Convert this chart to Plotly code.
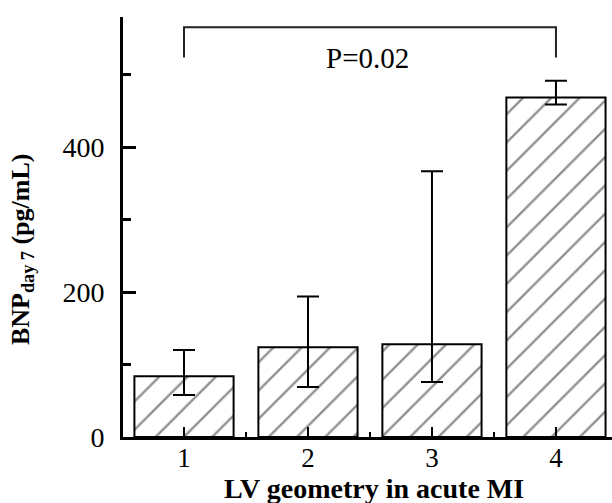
import plotly.graph_objects as go

categories = [1, 2, 3, 4]
means = [84, 124, 128, 469]
err_upper = [120, 194, 367, 492]
err_lower = [58, 69, 76, 459]
y_tick_vals = [0, 200, 400]
y_minor_vals = [100, 300, 500]
x_minor_vals = [1.5, 2.5, 3.5]
bracket_from, bracket_to = 1, 4
bracket_top, bracket_foot = 566, 524
p_label = "P=0.02"

plus = [u - m for u, m in zip(err_upper, means)]
minus = [m - l for m, l in zip(means, err_lower)]

FONT = "Liberation Serif, Times New Roman, serif"

fig = go.Figure()
fig.add_trace(go.Bar(
    x=categories, y=means, width=0.8,
    marker=dict(color="white", line=dict(color="black", width=2),
                pattern=dict(shape="/", size=20, solidity=0.12,
                             fgcolor="#222", bgcolor="white")),
    error_y=dict(type="data", symmetric=False, array=plus, arrayminus=minus,
                 color="black", thickness=2, width=11),
    showlegend=False,
))

fig.add_shape(type="path", xref="x", yref="y",
              path=f"M {bracket_from},{bracket_foot} L {bracket_from},{bracket_top} "
                   f"L {bracket_to},{bracket_top} L {bracket_to},{bracket_foot}",
              line=dict(color="#222", width=2))
fig.add_annotation(x=(bracket_from + bracket_to) / 2 - 0.02, y=(bracket_top + bracket_foot) / 2 - 22,
                   text=p_label, showarrow=False, xref="x", yref="y",
                   font=dict(family=FONT, size=29, color="black"))
fig.add_annotation(x=(22 - 123) / 489, y=(437 - 250) / 420, xref="paper", yref="paper",
                   text="<b>BNP<sub>day 7</sub> (pg/mL)</b>", textangle=-90,
                   showarrow=False, xanchor="center", yanchor="middle",
                   font=dict(family=FONT, size=26, color="black"))
fig.add_annotation(x=(374 - 123) / 489, y=(437 - 488) / 420, xref="paper", yref="paper",
                   text="<b>LV geometry in acute MI</b>",
                   showarrow=False, xanchor="center", yanchor="middle",
                   font=dict(family=FONT, size=28, color="black"))

fig.update_layout(
    width=612, height=503,
    margin=dict(l=123, r=0, t=17, b=66),
    paper_bgcolor="white", plot_bgcolor="white",
    font=dict(family=FONT, color="black"),
    xaxis=dict(range=[0.508, 4.452], tickvals=categories,
               ticktext=[str(c) for c in categories],
               ticks="inside", ticklen=10, tickwidth=2, tickcolor="black",
               minor=dict(tickvals=x_minor_vals, ticks="inside", ticklen=5,
                          tickwidth=2, tickcolor="black"),
               showline=True, linecolor="black", linewidth=3,
               showgrid=False, zeroline=False, automargin=False,
               ticklabelstandoff=-5,
               tickfont=dict(size=27, family=FONT)),
    yaxis=dict(range=[0, 580], tickvals=y_tick_vals,
               ticks="inside", ticklen=13, tickwidth=3, tickcolor="black",
               minor=dict(tickvals=y_minor_vals, ticks="inside", ticklen=8,
                          tickwidth=3, tickcolor="black"),
               showline=True, linecolor="black", linewidth=3,
               showgrid=False, zeroline=False, automargin=False,
               ticklabelstandoff=10,
               tickfont=dict(size=28, family=FONT)),
)

fig.write_html("out.html", config={"displayModeBar": False},
               post_script="document.body.style.margin='0';")
